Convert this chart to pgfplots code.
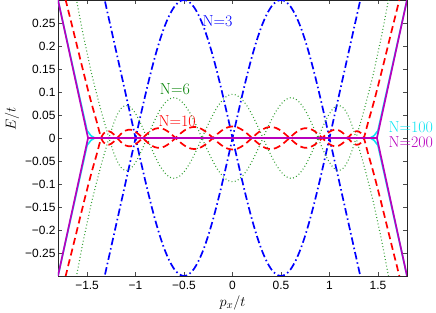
\documentclass[border=0pt]{standalone}
\usepackage{fontspec}
\usepackage{pgfplots}
\pgfplotsset{compat=1.18}
\usepackage{pgfplotstable}
\usetikzlibrary{calc}
\newfontfamily\tickfont{Liberation Sans}
\definecolor{mb}{rgb}{0,0,1}
\definecolor{mg}{rgb}{0,0.5,0}
\definecolor{mgl}{rgb}{0.2,0.62,0.2}
\definecolor{mr}{rgb}{1,0,0}
\definecolor{mc}{rgb}{0.05,0.9,0.95}
\definecolor{mm}{rgb}{0.72,0,0.74}

% N=3
\pgfplotstableread{
p a b
-1.45 0.424 -0.424
-1.40 0.3768 -0.3768
-1.30 0.2826 -0.2826
-1.20 0.1884 -0.1884
-1.10 0.0942 -0.0942
-1.00 0 0
-0.95 -0.0469 0.0469
-0.90 -0.0927 0.0927
-0.85 -0.1362 0.1362
-0.80 -0.1763 0.1763
-0.75 -0.2121 0.2121
-0.70 -0.2427 0.2427
-0.65 -0.2673 0.2673
-0.60 -0.2853 0.2853
-0.55 -0.2963 0.2963
-0.50 -0.3 0.3
-0.45 -0.2963 0.2963
-0.40 -0.2853 0.2853
-0.35 -0.2673 0.2673
-0.30 -0.2427 0.2427
-0.25 -0.2121 0.2121
-0.20 -0.1763 0.1763
-0.15 -0.1362 0.1362
-0.10 -0.0927 0.0927
-0.05 -0.0469 0.0469
0.00 0 0
0.05 0.0469 -0.0469
0.10 0.0927 -0.0927
0.15 0.1362 -0.1362
0.20 0.1763 -0.1763
0.25 0.2121 -0.2121
0.30 0.2427 -0.2427
0.35 0.2673 -0.2673
0.40 0.2853 -0.2853
0.45 0.2963 -0.2963
0.50 0.3 -0.3
0.55 0.2963 -0.2963
0.60 0.2853 -0.2853
0.65 0.2673 -0.2673
0.70 0.2427 -0.2427
0.75 0.2121 -0.2121
0.80 0.1763 -0.1763
0.85 0.1362 -0.1362
0.90 0.0927 -0.0927
0.95 0.0469 -0.0469
1.00 0 0
1.10 -0.0942 0.0942
1.20 -0.1884 0.1884
1.30 -0.2826 0.2826
1.40 -0.3768 0.3768
1.45 -0.424 0.424
}\tblue

% N=6
\pgfplotstableread{
p a b
-1.65 -0.345 0.345
-1.60 -0.29 0.29
-1.55 -0.235 0.235
-1.50 -0.185 0.185
-1.45 -0.137 0.137
-1.40 -0.095 0.095
-1.35 -0.055 0.055
-1.30 -0.0186 0.0186
-1.25 0.0167 -0.0167
-1.20 0.0457 -0.0457
-1.15 0.0641 -0.0641
-1.10 0.0707 -0.0707
-1.05 0.0665 -0.0665
-1.00 0.0530 -0.0530
-0.95 0.0330 -0.0330
-0.90 0.0091 -0.0091
-0.85 -0.0159 0.0159
-0.80 -0.0397 0.0397
-0.75 -0.0601 0.0601
-0.70 -0.0754 0.0754
-0.65 -0.0849 0.0849
-0.60 -0.0876 0.0876
-0.55 -0.0837 0.0837
-0.50 -0.0736 0.0736
-0.45 -0.0583 0.0583
-0.40 -0.0388 0.0388
-0.35 -0.0166 0.0166
-0.30 0.0070 -0.0070
-0.25 0.0301 -0.0301
-0.20 0.0514 -0.0514
-0.15 0.0696 -0.0696
-0.10 0.0834 -0.0834
-0.05 0.0921 -0.0921
0.00 0.0950 -0.0950
0.05 0.0921 -0.0921
0.10 0.0834 -0.0834
0.15 0.0696 -0.0696
0.20 0.0514 -0.0514
0.25 0.0301 -0.0301
0.30 0.0070 -0.0070
0.35 -0.0166 0.0166
0.40 -0.0388 0.0388
0.45 -0.0583 0.0583
0.50 -0.0736 0.0736
0.55 -0.0837 0.0837
0.60 -0.0876 0.0876
0.65 -0.0849 0.0849
0.70 -0.0754 0.0754
0.75 -0.0601 0.0601
0.80 -0.0397 0.0397
0.85 -0.0159 0.0159
0.90 0.0091 -0.0091
0.95 0.0330 -0.0330
1.00 0.0530 -0.0530
1.05 0.0665 -0.0665
1.10 0.0707 -0.0707
1.15 0.0641 -0.0641
1.20 0.0457 -0.0457
1.25 0.0167 -0.0167
1.30 -0.0186 0.0186
1.35 -0.055 0.055
1.40 -0.095 0.095
1.45 -0.137 0.137
1.50 -0.185 0.185
1.55 -0.235 0.235
1.60 -0.29 0.29
1.65 -0.345 0.345
}\tgreen

% N=10
\pgfplotstableread{
p a b
-1.75 -0.325 0.325
-1.70 -0.282 0.282
-1.65 -0.24 0.24
-1.60 -0.197 0.197
-1.55 -0.154 0.154
-1.50 -0.112 0.112
-1.45 -0.072 0.072
-1.40 -0.035 0.035
-1.35 0.0026 -0.0026
-1.30 0.0144 -0.0144
-1.25 0.0125 -0.0125
-1.20 0.0024 -0.0024
-1.15 -0.0089 0.0089
-1.10 -0.0164 0.0164
-1.05 -0.0180 0.0180
-1.00 -0.0134 0.0134
-0.95 -0.0048 0.0048
-0.90 0.0053 -0.0053
-0.85 0.0143 -0.0143
-0.80 0.0200 -0.0200
-0.75 0.0214 -0.0214
-0.70 0.0184 -0.0184
-0.65 0.0116 -0.0116
-0.60 0.0024 -0.0024
-0.55 -0.0073 0.0073
-0.50 -0.0158 0.0158
-0.45 -0.0217 0.0217
-0.40 -0.0240 0.0240
-0.35 -0.0225 0.0225
-0.30 -0.0172 0.0172
-0.25 -0.0092 0.0092
-0.20 0.0002 -0.0002
-0.15 0.0097 -0.0097
-0.10 0.0177 -0.0177
-0.05 0.0231 -0.0231
0.00 0.0250 -0.0250
0.05 0.0231 -0.0231
0.10 0.0177 -0.0177
0.15 0.0097 -0.0097
0.20 0.0002 -0.0002
0.25 -0.0092 0.0092
0.30 -0.0172 0.0172
0.35 -0.0225 0.0225
0.40 -0.0240 0.0240
0.45 -0.0217 0.0217
0.50 -0.0158 0.0158
0.55 -0.0073 0.0073
0.60 0.0024 -0.0024
0.65 0.0116 -0.0116
0.70 0.0184 -0.0184
0.75 0.0214 -0.0214
0.80 0.0200 -0.0200
0.85 0.0143 -0.0143
0.90 0.0053 -0.0053
0.95 -0.0048 0.0048
1.00 -0.0134 0.0134
1.05 -0.0180 0.0180
1.10 -0.0164 0.0164
1.15 -0.0089 0.0089
1.20 0.0024 -0.0024
1.25 0.0125 -0.0125
1.30 0.0144 -0.0144
1.35 0.0026 -0.0026
1.40 -0.035 0.035
1.45 -0.072 0.072
1.50 -0.112 0.112
1.55 -0.154 0.154
1.60 -0.197 0.197
1.65 -0.24 0.24
1.70 -0.282 0.282
1.75 -0.325 0.325
}\tred

% N=100
\pgfplotstableread{
p a b
-1.80 0.3 -0.3
-1.50 0.016 -0.016
-1.46 0.005 -0.005
-1.42 0 0
1.42 0 0
1.46 0.005 -0.005
1.50 0.016 -0.016
1.80 0.3 -0.3
}\tcyan

% N=200
\pgfplotstableread{
p a b
-1.80 0.3 -0.3
-1.49 0 0
1.49 0 0
1.80 0.3 -0.3
}\tmag

\begin{document}
\begin{tikzpicture}
\begin{axis}[
  name=ax,
  width=349bp, height=276bp, scale only axis,
  xmin=-1.8, xmax=1.8, ymin=-0.3, ymax=0.3,
  xtick={-1.5,-1,-0.5,0,0.5,1,1.5},
  xticklabels={−1.5,−1,−0.5,0,0.5,1,1.5},
  ytick={-0.25,-0.2,-0.15,-0.1,-0.05,0,0.05,0.1,0.15,0.2,0.25},
  yticklabels={−0.25,−0.2,−0.15,−0.1,−0.05,0,0.05,0.1,0.15,0.2,0.25},
  ticklabel style={font=\tickfont\fontsize{12}{14}\selectfont},
  xticklabel style={yshift=-2bp},
  yticklabel style={xshift=1bp},
  major tick length=4bp, tick align=inside,
  tick style={black!70, line width=0.6bp},
  axis line style={black!85, line width=0.8bp},
  xlabel={$p_x/t$}, ylabel={$E/t$},
  label style={font=\fontsize{15}{18}\selectfont},
  xlabel style={at={(axis description cs:0.5,-0.098)}, anchor=center},
  ylabel style={at={(axis description cs:-0.132,0.57)}, anchor=center},
  clip mode=individual,
]
\addplot[mb, line width=1.7bp, dash pattern=on 7.5bp off 3bp on 1.5bp off 3bp, smooth] table[x=p,y=a]{\tblue};
\addplot[mb, line width=1.7bp, dash pattern=on 7.5bp off 3bp on 1.5bp off 3bp, smooth] table[x=p,y=b]{\tblue};
\addplot[mgl, line width=1.1bp, dash pattern=on 0.9bp off 2.4bp, smooth] table[x=p,y=a]{\tgreen};
\addplot[mgl, line width=1.1bp, dash pattern=on 0.9bp off 2.4bp, smooth] table[x=p,y=b]{\tgreen};
\addplot[mr, line width=1.7bp, dash pattern=on 7bp off 4bp, smooth] table[x=p,y=a]{\tred};
\addplot[mr, line width=1.7bp, dash pattern=on 7bp off 4bp, smooth] table[x=p,y=b]{\tred};
\addplot[mc, line width=1.6bp] table[x=p,y=a]{\tcyan};
\addplot[mc, line width=1.6bp] table[x=p,y=b]{\tcyan};
\addplot[mm, line width=1.7bp] table[x=p,y=a]{\tmag};
\addplot[mm, line width=1.7bp] table[x=p,y=b]{\tmag};
\node[mb, anchor=base west, inner sep=0pt, font=\fontsize{16}{19}\selectfont] at (axis cs:-0.31,0.242) {N=3};
\node[mg, anchor=base west, inner sep=0pt, font=\fontsize{16}{19}\selectfont] at (axis cs:-0.75,0.095) {N=6};
\node[mr, anchor=base west, inner sep=0pt, font=\fontsize{16}{19}\selectfont] at (axis cs:-0.765,0.024) {N=10};
\node[mc, anchor=base west, inner sep=0pt, font=\fontsize{16}{19}\selectfont] at (axis cs:1.608,0.0115) {N=100};
\node[mm, anchor=base west, inner sep=0pt, font=\fontsize{16}{19}\selectfont] at (axis cs:1.608,-0.021) {N=200};
\end{axis}
\pgfresetboundingbox
\path ($(ax.south west)+(-58bp,-37bp)$) rectangle ($(ax.north east)+(29bp,0bp)$);
\end{tikzpicture}
\end{document}
